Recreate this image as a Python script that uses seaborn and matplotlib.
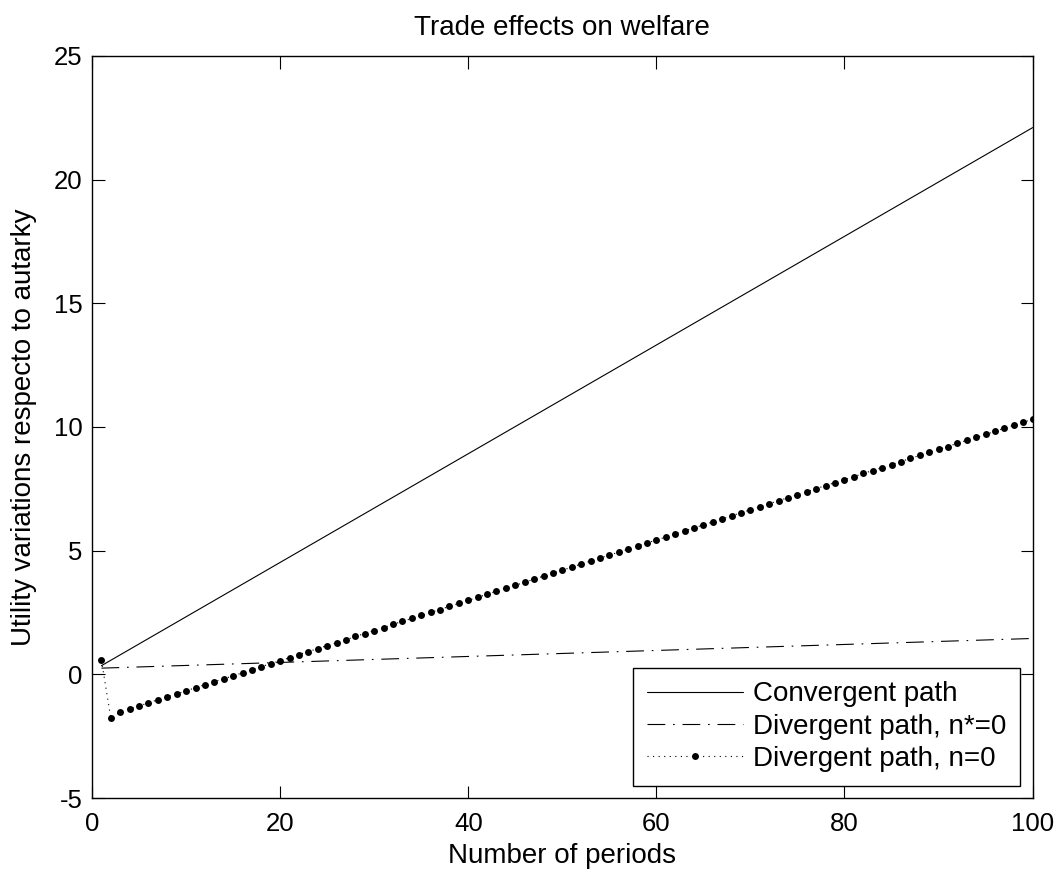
import matplotlib
matplotlib.use("Agg")
import matplotlib.pyplot as plt
import seaborn as sns
import pandas as pd

# ---- data ----
conv_x = [1, 100]
conv_y = [0.35, 22.1]

div_star_x = [1, 100]
div_star_y = [0.25, 1.45]

div_n_x = list(range(1, 101))
div_n_y = [0.57, -1.78, -1.52, -1.40, -1.28, -1.15, -1.03, -0.91, -0.79, -0.67,
           -0.54, -0.42, -0.30, -0.18, -0.06, 0.06, 0.19, 0.31, 0.43, 0.55,
           0.67, 0.80, 0.92, 1.04, 1.16, 1.28, 1.40, 1.53, 1.65, 1.77,
           1.89, 2.02, 2.14, 2.26, 2.38, 2.50, 2.62, 2.75, 2.87, 2.99,
           3.11, 3.24, 3.36, 3.48, 3.60, 3.72, 3.85, 3.97, 4.09, 4.21,
           4.33, 4.46, 4.58, 4.70, 4.82, 4.94, 5.06, 5.19, 5.31, 5.43,
           5.55, 5.68, 5.80, 5.92, 6.04, 6.16, 6.28, 6.41, 6.53, 6.65,
           6.77, 6.90, 7.02, 7.14, 7.26, 7.38, 7.51, 7.63, 7.75, 7.87,
           7.99, 8.12, 8.24, 8.36, 8.48, 8.60, 8.73, 8.85, 8.97, 9.09,
           9.21, 9.34, 9.46, 9.58, 9.70, 9.82, 9.95, 10.07, 10.19, 10.31]

labels = ["Convergent path", "Divergent path, n*=0", "Divergent path, n=0"]
xticks = [0, 20, 40, 60, 80, 100]
yticks = [-5, 0, 5, 10, 15, 20, 25]

sns.set_style("ticks")
plt.rcParams["font.family"] = ["Liberation Sans", "DejaVu Sans"]
plt.rcParams["axes.unicode_minus"] = False
plt.rcParams["text.color"] = "black"
plt.rcParams["axes.labelcolor"] = "black"

fig = plt.figure(figsize=(10.58, 8.71), dpi=100)
ax = fig.add_axes([0.087, 0.0838, 0.889, 0.852])

sns.lineplot(x=conv_x, y=conv_y, ax=ax, color="black", lw=0.8,
             linestyle="-", label=labels[0], sort=False, errorbar=None)
sns.lineplot(x=div_star_x, y=div_star_y, ax=ax, color="black", lw=0.8,
             linestyle=(0, (16, 7, 1.5, 7)), label=labels[1], sort=False,
             errorbar=None)
sns.lineplot(x=div_n_x, y=div_n_y, ax=ax, color="black", lw=0.8,
             linestyle=(0, (1, 4)), marker="o", markersize=5,
             markeredgewidth=0, label=labels[2], sort=False, errorbar=None)

ax.set_xlim(0, 100)
ax.set_ylim(-5, 25)
ax.set_xticks(xticks)
ax.set_yticks(yticks)
ax.tick_params(direction="in", length=9, width=0.8, top=True, right=True,
               labelsize=18.5, colors="black")
ax.tick_params(axis="x", pad=10)
ax.tick_params(axis="y", pad=7)
for s in ax.spines.values():
    s.set_visible(True)
    s.set_linewidth(1.0)
    s.set_color("black")

ax.set_title("Trade effects on welfare", fontsize=20, pad=15, color="black")
ax.set_xlabel("Number of periods", fontsize=20, labelpad=5, color="black")
ax.set_ylabel("Utility variations respecto to autarky", fontsize=20,
              labelpad=12, color="black")

leg = ax.legend(loc="lower right", fontsize=20, handlelength=3.45,
                frameon=True, fancybox=False, edgecolor="black",
                framealpha=1, borderaxespad=0.45, labelspacing=0.22,
                handletextpad=0.36, borderpad=0.5)
leg.get_frame().set_linewidth(1.0)
for t in leg.get_texts():
    t.set_color("black")

fig.savefig("out.png", dpi=100)
